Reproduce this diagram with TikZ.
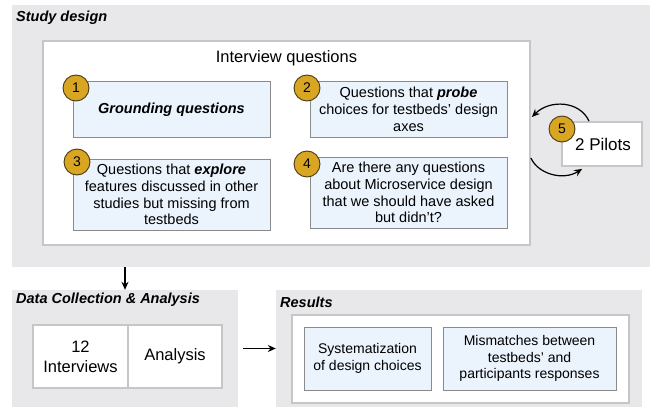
\documentclass[tikz,border=0pt]{standalone}
\usepackage{fontspec}
\setmainfont{Liberation Sans}
\usetikzlibrary{arrows.meta,calc}
\definecolor{panelgray}{HTML}{E8E8EB}
\definecolor{whiteborder}{HTML}{C6C6C6}
\definecolor{bluefill}{HTML}{EBF3FD}
\definecolor{blueborder}{HTML}{8A8A8A}
\definecolor{gold}{HTML}{D9A623}
\definecolor{golddark}{HTML}{4A3A12}
\tikzset{
  panel/.style={fill=panelgray, draw=none, rectangle, inner sep=0pt},
  whitebox/.style={fill=white, draw=whiteborder, line width=1.8pt, rectangle, inner sep=0pt},
  bluebox/.style={fill=bluefill, draw=blueborder, line width=1pt, rectangle, inner sep=0pt, align=center, font=\fontsize{14.5}{16.8}\selectfont},
  numcirc/.style={circle, fill=gold, draw=golddark, line width=0.9pt, minimum size=26pt, inner sep=0pt, font=\fontsize{14}{16}\selectfont},
  heading/.style={anchor=west, inner sep=0pt, font=\fontsize{14.5}{17}\selectfont\bfseries\itshape},
  arr/.style={-{Stealth[length=8pt,width=7pt]}, line width=1.2pt, black},
}
\begin{document}
\begin{tikzpicture}[x=1pt,y=-1pt]
\useasboundingbox (0,0) rectangle (650,409);
\fill[white] (0,0) rectangle (650,409);
% panels
\node[panel, minimum width=638pt, minimum height=262pt] (study) at (331,136) {};
\node[heading] (studyt) at (16,18) {Study design};
\node[whitebox, minimum width=487pt, minimum height=204pt] (inner) at (286.5,143) {};
\node[inner sep=0pt, font=\fontsize{16.5}{19}\selectfont] (iq) at (286.5,58) {Interview questions};
% question boxes
\node[bluebox, minimum width=197pt, minimum height=55pt] (q1) at (171.5,109.5) {\textbf{\textit{Grounding questions}}};
\node[bluebox, minimum width=197pt, minimum height=55pt] (q2) at (408.5,109.5) {Questions that \textbf{\textit{probe}}\\choices for testbeds’ design\\axes};
\node[bluebox, minimum width=197pt, minimum height=71pt] (q3) at (171.5,194.5) {Questions that \textbf{\textit{explore}}\\features discussed in other\\studies but missing from\\testbeds};
\node[bluebox, minimum width=197pt, minimum height=71pt] (q4) at (408.5,192.5) {Are there any questions\\about Microservice design\\that we should have asked\\but didn’t?};
\node[numcirc] (c1) at (76,88) {1};
\node[numcirc] (c2) at (307,88) {2};
\node[numcirc] (c3) at (77,162) {3};
\node[numcirc] (c4) at (307,164) {4};
% pilots
\node[whitebox, minimum width=80pt, minimum height=44pt, font=\fontsize{17}{19}\selectfont] (pilots) at (602,144) {\hspace*{2pt}2 Pilots};
\node[numcirc] (c5) at (562,129) {5};
\draw[arr] ($(pilots.north)+(-13,0)$) .. controls (580,101) and (550,99) .. ($(inner.east)+(1,-26)$);
\draw[arr] ($(inner.east)+(0,15)$) .. controls (538,174) and (563,181) .. ($(pilots.south west)+(21,2)$);
% data collection
\node[panel, minimum width=226pt, minimum height=117pt] (dc) at (125,348.5) {};
\node[heading] (dct) at (16,300) {Data Collection \& Analysis};
\node[whitebox, minimum width=95pt, minimum height=63pt, align=center, font=\fontsize{16.5}{20}\selectfont] (iv) at (80.5,356.5) {12\\Interviews};
\node[whitebox, minimum width=94pt, minimum height=63pt, font=\fontsize{16.5}{20}\selectfont] (an) at (175,356.5) {Analysis};
% results
\node[panel, minimum width=366pt, minimum height=117pt] (res) at (459,348.5) {};
\node[heading] (rest) at (280,302) {Results};
\node[whitebox, minimum width=337pt, minimum height=88pt] (resin) at (460.5,359) {};
\node[bluebox, minimum width=127pt, minimum height=63pt, font=\fontsize{14}{16.5}\selectfont] (sys) at (367.5,358.5) {Systematization\\of design choices};
\node[bluebox, minimum width=173pt, minimum height=63pt, font=\fontsize{14}{16.5}\selectfont] (mis) at (529.5,358.5) {Mismatches between\\testbeds’ and\\participants responses};
% connectors
\draw[arr] (study.south -| dc.north) -- (dc.north);
\draw[arr, shorten <=5pt] (dc.east) -- (res.west);
\end{tikzpicture}
\end{document}
